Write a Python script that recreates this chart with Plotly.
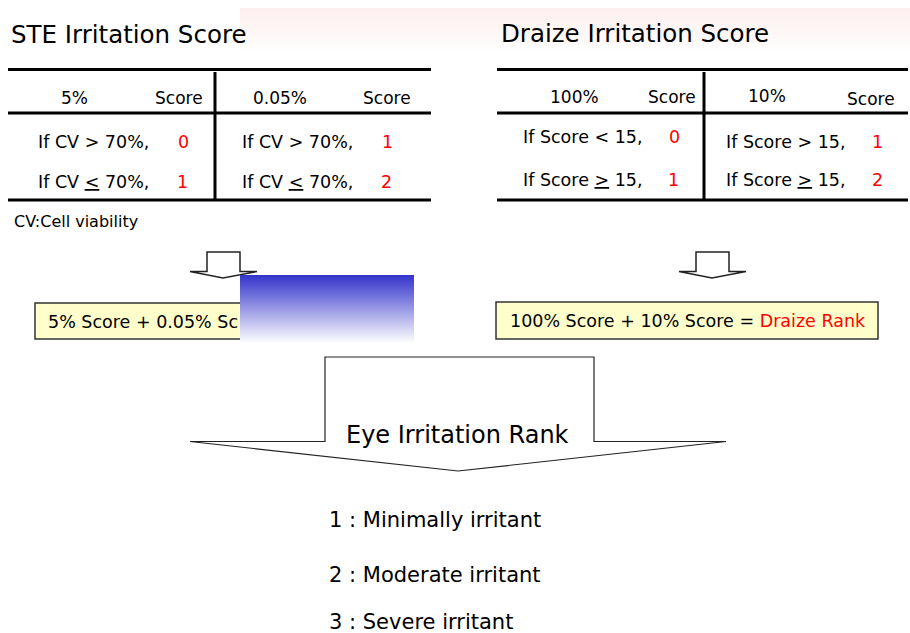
import plotly.graph_objects as go

# ---------------- data (texts) ----------------
titles = ["STE Irritation Score", "Draize Irritation Score"]
ste_headers = ["5%", "Score", "0.05%", "Score"]
ste_conditions = ["If CV &gt; 70%,", "If CV <u>&lt;</u> 70%,", "If CV &gt; 70%,", "If CV <u>&lt;</u> 70%,"]
ste_scores = ["0", "1", "1", "2"]
draize_headers = ["100%", "Score", "10%", "Score"]
draize_conditions = ["If Score &lt; 15,", "If Score <u>&gt;</u> 15,", "If Score &gt; 15,", "If Score <u>&gt;</u> 15,"]
draize_scores = ["0", "1", "1", "2"]
footnote = "CV:Cell viability"
ste_formula = "5% Score + 0.05% Sc"
draize_formula = "100% Score + 10% Score = "
draize_rank = "Draize Rank"
final_label = "Eye Irritation Rank"
ranks = ["1 : Minimally irritant", "2 : Moderate irritant", "3 : Severe irritant"]

FONT = "DejaVu Sans"
RED = "#ff0000"
BLACK = "#000000"

fig = go.Figure()

# gradient bands (traces)
fig.add_trace(go.Scatter(x=[240, 910, 910, 240, 240], y=[8, 8, 54, 54, 8], mode="none",
                         fill="toself", hoverinfo="skip", showlegend=False,
                         fillgradient=dict(type="vertical", start=8, stop=54,
                                           colorscale=[[0, "rgb(253,238,238)"], [1, "rgb(255,255,255)"]])))
fig.add_trace(go.Scatter(x=[240, 414, 414, 240, 240], y=[275, 275, 343, 343, 275], mode="none",
                         fill="toself", hoverinfo="skip", showlegend=False,
                         fillgradient=dict(type="vertical", start=275, stop=343,
                                           colorscale=[[0, "rgb(51,51,204)"], [1, "rgb(255,255,255)"]])))

shapes = []
def line(x0, y0, x1, y1, w=3, c=BLACK, layer="above"):
    shapes.append(dict(type="line", x0=x0, y0=y0, x1=x1, y1=y1, layer=layer,
                       line=dict(color=c, width=w)))

# STE table
for yy in [69.5, 113, 200]:
    line(8, yy, 431, yy)
line(215, 72, 215, 199)
# Draize table
for yy in [69.5, 113, 200]:
    line(497, yy, 908, yy)
line(704, 72, 704, 199)

# yellow boxes
shapes.append(dict(type="rect", x0=35, y0=303, x1=330, y1=339, layer="below",
                   fillcolor="#ffffcc", line=dict(color="#333333", width=1.5)))
shapes.append(dict(type="rect", x0=496, y0=302, x1=878, y1=339, layer="below",
                   fillcolor="#ffffcc", line=dict(color="#333333", width=1.5)))

# block arrows
def block_arrow(sx0, sx1, top, wy, wx0, wx1, tipx, tipy, w=1.5, layer="below"):
    path = (f"M {sx0} {top} L {sx1} {top} L {sx1} {wy} L {wx1} {wy} L {tipx} {tipy} "
            f"L {wx0} {wy} L {sx0} {wy} Z")
    shapes.append(dict(type="path", path=path, layer=layer, fillcolor="white",
                       line=dict(color="#222222", width=w)))

block_arrow(207, 240, 252, 271.5, 190, 257, 223, 278)
block_arrow(696, 729, 252, 271.5, 679, 746, 712, 278)
block_arrow(325, 594, 357, 441.5, 190, 726, 458, 471, w=1.2)

annotations = []
def txt(x, y, s, size=17.5, color=BLACK, anchor="left"):
    annotations.append(dict(x=x, y=y, text=s, xref="x", yref="y", showarrow=False,
                            xanchor=anchor, yanchor="middle",
                            font=dict(family=FONT, size=size, color=color)))

# titles
txt(9, 34, titles[0], size=24.5)
txt(499, 33, titles[1], size=24.5)

# STE headers
for s, x, y in zip(ste_headers, [74, 179, 280, 387], [98, 98, 98, 98]):
    txt(x, y, s, size=17, anchor="center")
# STE rows
for s, x, y in zip(ste_conditions, [36, 36, 240, 240], [142, 182, 142, 182]):
    txt(x, y, s)
for s, x, y in zip(ste_scores, [183, 182, 387, 386], [142, 182, 142, 182]):
    txt(x, y, s, color=RED, anchor="center")

# Draize headers
for s, x, y in zip(draize_headers, [574, 672, 767, 871], [97, 97, 96, 99]):
    txt(x, y, s, size=17, anchor="center")
for s, x, y in zip(draize_conditions, [521, 521, 724, 724], [137, 180, 142, 180]):
    txt(x, y, s)
for s, x, y in zip(draize_scores, [674, 673, 877, 877], [137, 180, 142, 180]):
    txt(x, y, s, color=RED, anchor="center")

txt(12, 221, footnote, size=16)

# formulas
txt(46, 322, ste_formula)
txt(508, 321, f"{draize_formula}<span style='color:{RED}'>{draize_rank}</span>")

# final
txt(457, 435, final_label, size=24, anchor="center")
for s, y in zip(ranks, [520, 575, 622]):
    txt(327, y, s, size=21)

fig.update_layout(
    width=910, height=633, margin=dict(l=0, r=0, t=0, b=0),
    paper_bgcolor="white", plot_bgcolor="white",
    xaxis=dict(range=[0, 910], visible=False, fixedrange=True),
    yaxis=dict(range=[633, 0], visible=False, fixedrange=True),
    shapes=shapes, annotations=annotations, showlegend=False,
)

fig.write_html("out.html",
               config={"displayModeBar": False, "staticPlot": True},
               post_script="document.body.style.margin='0';document.body.style.overflow='hidden';")
